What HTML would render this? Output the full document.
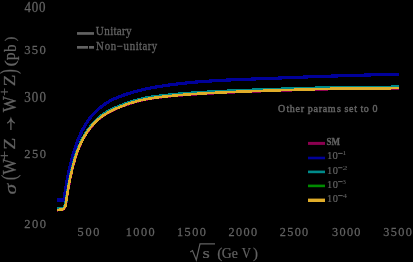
<!DOCTYPE html>
<html><head><meta charset="utf-8"><style>
html,body{margin:0;padding:0;background:#000;width:413px;height:262px;overflow:hidden}
svg{display:block;will-change:transform}
text{font-family:"Liberation Serif",serif;fill:#626262}
</style></head><body>
<svg width="413" height="262" viewBox="0 0 413 262">
<rect width="413" height="262" fill="#000"/>
<g fill="none" stroke-width="3.0" stroke-linejoin="round" shape-rendering="crispEdges">
<path d="M57.30,210.15 L63.40,209.35 L65.60,205.75 L65.84,204.01 L66.09,202.31 L66.33,200.64 L66.58,199.01 L66.82,197.41 L67.06,195.85 L67.31,194.32 L67.55,192.82 L67.80,191.35 L68.04,189.92 L68.28,188.51 L68.53,187.14 L68.77,185.79 L69.02,184.47 L69.26,183.17 L69.51,181.90 L69.75,180.66 L69.99,179.44 L70.24,178.24 L70.48,177.07 L70.73,175.92 L70.97,174.80 L71.21,173.69 L71.46,172.61 L71.70,171.55 L71.95,170.50 L72.19,169.48 L72.43,168.48 L72.68,167.49 L72.92,166.53 L73.17,165.59 L73.41,164.66 L73.65,163.75 L73.90,162.86 L74.14,161.99 L74.39,161.13 L74.63,160.30 L74.87,159.47 L75.12,158.67 L75.36,157.87 L75.61,157.10 L75.85,156.33 L76.09,155.59 L76.34,154.85 L76.58,154.13 L76.83,153.42 L77.07,152.73 L77.32,152.05 L77.56,151.38 L77.80,150.72 L78.05,150.08 L78.29,149.44 L78.54,148.82 L78.78,148.21 L79.02,147.61 L79.27,147.02 L79.51,146.44 L79.76,145.87 L80.00,145.31 L80.50,144.19 L81.38,142.32 L82.26,140.55 L83.14,138.88 L84.02,137.31 L84.90,135.81 L85.78,134.39 L86.66,133.04 L87.54,131.75 L88.42,130.52 L89.30,129.34 L90.18,128.20 L91.06,127.10 L91.94,126.04 L92.82,125.02 L93.70,124.03 L94.58,123.10 L95.46,122.20 L96.34,121.34 L97.22,120.52 L98.09,119.73 L98.97,118.97 L99.85,118.24 L100.73,117.55 L101.61,116.88 L102.49,116.23 L103.37,115.61 L104.25,115.02 L105.13,114.44 L106.01,113.89 L106.89,113.35 L107.77,112.84 L108.65,112.34 L109.53,111.87 L110.41,111.40 L111.29,110.96 L112.17,110.53 L113.05,110.11 L113.93,109.69 L114.81,109.29 L115.69,108.90 L116.57,108.51 L117.45,108.13 L118.33,107.76 L119.21,107.39 L120.09,107.03 L120.97,106.68 L121.85,106.34 L122.73,106.00 L123.61,105.67 L124.49,105.34 L125.37,105.02 L126.25,104.71 L127.13,104.40 L128.01,104.10 L128.89,103.80 L129.77,103.51 L130.65,103.23 L131.53,102.95 L132.41,102.68 L133.28,102.41 L134.16,102.15 L135.04,101.90 L135.92,101.65 L136.80,101.41 L137.68,101.17 L138.56,100.94 L139.44,100.72 L140.32,100.50 L141.20,100.29 L142.08,100.09 L142.96,99.89 L143.84,99.70 L144.72,99.52 L145.60,99.35 L146.48,99.18 L147.36,99.02 L148.24,98.86 L149.12,98.72 L150.00,98.58 L152.00,98.28 L156.19,97.70 L160.37,97.18 L164.56,96.69 L168.75,96.25 L172.93,95.84 L177.12,95.46 L181.31,95.11 L185.49,94.78 L189.68,94.47 L193.86,94.18 L198.05,93.91 L202.24,93.65 L206.42,93.41 L210.61,93.18 L214.80,92.96 L218.98,92.75 L223.17,92.54 L227.36,92.35 L231.54,92.16 L235.73,91.98 L239.92,91.81 L244.10,91.64 L248.29,91.48 L252.47,91.32 L256.66,91.17 L260.85,91.02 L265.03,90.88 L269.22,90.74 L273.41,90.60 L277.59,90.46 L281.78,90.33 L285.97,90.20 L290.15,90.07 L294.34,89.95 L298.53,89.83 L302.71,89.71 L306.90,89.59 L311.08,89.47 L315.27,89.35 L319.46,89.24 L323.64,89.13 L327.83,89.02 L332.02,88.91 L336.20,88.80 L340.39,88.69 L344.58,88.58 L348.76,88.49 L352.95,88.45 L357.14,88.43 L361.32,88.43 L365.51,88.45 L369.69,88.48 L373.88,88.50 L378.07,88.51 L382.25,88.49 L386.44,88.45 L390.63,88.36 L394.81,88.27 L399.00,88.17" stroke="#8b0050"/>
<path d="M57.30,200.00 L64.00,199.97 L64.27,198.06 L64.54,196.21 L64.81,194.39 L65.08,192.62 L65.36,190.90 L65.63,189.21 L65.90,187.56 L66.17,185.94 L66.44,184.37 L66.71,182.82 L66.98,181.32 L67.25,179.84 L67.53,178.40 L67.80,176.98 L68.07,175.60 L68.34,174.25 L68.61,172.92 L68.88,171.63 L69.15,170.35 L69.42,169.11 L69.69,167.89 L69.97,166.69 L70.24,165.52 L70.51,164.37 L70.78,163.25 L71.05,162.14 L71.32,161.06 L71.59,160.00 L71.86,158.96 L72.14,157.94 L72.41,156.94 L72.68,155.95 L72.95,154.99 L73.22,154.04 L73.49,153.11 L73.76,152.20 L74.03,151.31 L74.31,150.43 L74.58,149.57 L74.85,148.72 L75.12,147.89 L75.39,147.08 L75.66,146.27 L75.93,145.49 L76.20,144.71 L76.47,143.95 L76.75,143.20 L77.02,142.46 L77.29,141.74 L77.56,141.02 L77.83,140.32 L78.10,139.63 L78.37,138.96 L78.64,138.29 L78.92,137.64 L79.19,137.00 L79.46,136.37 L79.73,135.75 L80.00,135.14 L80.50,134.04 L81.38,132.18 L82.26,130.41 L83.14,128.72 L84.02,127.11 L84.90,125.57 L85.78,124.10 L86.66,122.71 L87.54,121.38 L88.42,120.12 L89.30,118.92 L90.18,117.78 L91.06,116.69 L91.94,115.64 L92.82,114.64 L93.70,113.67 L94.58,112.74 L95.46,111.85 L96.34,110.99 L97.22,110.16 L98.09,109.37 L98.97,108.60 L99.85,107.86 L100.73,107.14 L101.61,106.45 L102.49,105.78 L103.37,105.14 L104.25,104.51 L105.13,103.91 L106.01,103.33 L106.89,102.77 L107.77,102.23 L108.65,101.71 L109.53,101.21 L110.41,100.73 L111.29,100.27 L112.17,99.83 L113.05,99.39 L113.93,98.98 L114.81,98.58 L115.69,98.19 L116.57,97.81 L117.45,97.44 L118.33,97.09 L119.21,96.74 L120.09,96.41 L120.97,96.08 L121.85,95.76 L122.73,95.45 L123.61,95.14 L124.49,94.84 L125.37,94.55 L126.25,94.26 L127.13,93.98 L128.01,93.70 L128.89,93.42 L129.77,93.14 L130.65,92.87 L131.53,92.60 L132.41,92.34 L133.28,92.09 L134.16,91.84 L135.04,91.60 L135.92,91.36 L136.80,91.12 L137.68,90.90 L138.56,90.67 L139.44,90.45 L140.32,90.24 L141.20,90.03 L142.08,89.82 L142.96,89.62 L143.84,89.42 L144.72,89.23 L145.60,89.04 L146.48,88.85 L147.36,88.67 L148.24,88.49 L149.12,88.31 L150.00,88.14 L152.00,87.76 L156.19,87.01 L160.37,86.32 L164.56,85.68 L168.75,85.08 L172.93,84.53 L177.12,84.01 L181.31,83.53 L185.49,83.08 L189.68,82.65 L193.86,82.26 L198.05,81.89 L202.24,81.56 L206.42,81.26 L210.61,80.98 L214.80,80.72 L218.98,80.48 L223.17,80.26 L227.36,80.06 L231.54,79.87 L235.73,79.69 L239.92,79.52 L244.10,79.35 L248.29,79.20 L252.47,79.04 L256.66,78.89 L260.85,78.74 L265.03,78.58 L269.22,78.42 L273.41,78.26 L277.59,78.10 L281.78,77.92 L285.97,77.75 L290.15,77.58 L294.34,77.42 L298.53,77.26 L302.71,77.10 L306.90,76.95 L311.08,76.80 L315.27,76.65 L319.46,76.51 L323.64,76.37 L327.83,76.23 L332.02,76.09 L336.20,75.96 L340.39,75.83 L344.58,75.70 L348.76,75.57 L352.95,75.44 L357.14,75.32 L361.32,75.19 L365.51,75.07 L369.69,74.95 L373.88,74.83 L378.07,74.72 L382.25,74.60 L386.44,74.49 L390.63,74.37 L394.81,74.26 L399.00,74.15" stroke="#00009a" stroke-width="3.2"/>
<path d="M57.30,208.80 L63.40,208.00 L65.60,204.40 L65.84,202.66 L66.09,200.96 L66.33,199.29 L66.58,197.66 L66.82,196.06 L67.06,194.50 L67.31,192.97 L67.55,191.47 L67.80,190.00 L68.04,188.57 L68.28,187.16 L68.53,185.79 L68.77,184.44 L69.02,183.12 L69.26,181.82 L69.51,180.55 L69.75,179.31 L69.99,178.09 L70.24,176.89 L70.48,175.72 L70.73,174.57 L70.97,173.45 L71.21,172.34 L71.46,171.26 L71.70,170.20 L71.95,169.15 L72.19,168.13 L72.43,167.13 L72.68,166.14 L72.92,165.18 L73.17,164.24 L73.41,163.31 L73.65,162.40 L73.90,161.51 L74.14,160.64 L74.39,159.78 L74.63,158.95 L74.87,158.12 L75.12,157.32 L75.36,156.52 L75.61,155.75 L75.85,154.98 L76.09,154.24 L76.34,153.50 L76.58,152.78 L76.83,152.07 L77.07,151.38 L77.32,150.70 L77.56,150.03 L77.80,149.37 L78.05,148.73 L78.29,148.09 L78.54,147.47 L78.78,146.86 L79.02,146.26 L79.27,145.67 L79.51,145.09 L79.76,144.52 L80.00,143.96 L80.50,142.84 L81.38,140.97 L82.26,139.20 L83.14,137.53 L84.02,135.96 L84.90,134.46 L85.78,133.04 L86.66,131.69 L87.54,130.40 L88.42,129.17 L89.30,127.99 L90.18,126.85 L91.06,125.75 L91.94,124.69 L92.82,123.67 L93.70,122.68 L94.58,121.75 L95.46,120.85 L96.34,119.99 L97.22,119.17 L98.09,118.38 L98.97,117.62 L99.85,116.89 L100.73,116.20 L101.61,115.53 L102.49,114.88 L103.37,114.26 L104.25,113.67 L105.13,113.09 L106.01,112.54 L106.89,112.00 L107.77,111.49 L108.65,110.99 L109.53,110.52 L110.41,110.05 L111.29,109.61 L112.17,109.18 L113.05,108.76 L113.93,108.34 L114.81,107.94 L115.69,107.55 L116.57,107.16 L117.45,106.78 L118.33,106.41 L119.21,106.04 L120.09,105.68 L120.97,105.33 L121.85,104.99 L122.73,104.65 L123.61,104.32 L124.49,103.99 L125.37,103.67 L126.25,103.36 L127.13,103.05 L128.01,102.75 L128.89,102.45 L129.77,102.16 L130.65,101.88 L131.53,101.60 L132.41,101.33 L133.28,101.06 L134.16,100.80 L135.04,100.55 L135.92,100.30 L136.80,100.06 L137.68,99.82 L138.56,99.59 L139.44,99.37 L140.32,99.15 L141.20,98.94 L142.08,98.74 L142.96,98.54 L143.84,98.35 L144.72,98.17 L145.60,98.00 L146.48,97.83 L147.36,97.67 L148.24,97.51 L149.12,97.37 L150.00,97.23 L152.00,96.93 L156.19,96.35 L160.37,95.83 L164.56,95.34 L168.75,94.90 L172.93,94.49 L177.12,94.11 L181.31,93.76 L185.49,93.43 L189.68,93.12 L193.86,92.83 L198.05,92.56 L202.24,92.30 L206.42,92.06 L210.61,91.83 L214.80,91.61 L218.98,91.40 L223.17,91.19 L227.36,91.00 L231.54,90.81 L235.73,90.63 L239.92,90.46 L244.10,90.29 L248.29,90.13 L252.47,89.97 L256.66,89.82 L260.85,89.67 L265.03,89.53 L269.22,89.39 L273.41,89.25 L277.59,89.11 L281.78,88.98 L285.97,88.85 L290.15,88.72 L294.34,88.60 L298.53,88.48 L302.71,88.36 L306.90,88.24 L311.08,88.12 L315.27,88.00 L319.46,87.89 L323.64,87.78 L327.83,87.67 L332.02,87.56 L336.20,87.45 L340.39,87.34 L344.58,87.23 L348.76,87.14 L352.95,87.10 L357.14,87.08 L361.32,87.08 L365.51,87.10 L369.69,87.13 L373.88,87.15 L378.07,87.16 L382.25,87.14 L386.44,87.10 L390.63,87.01 L394.81,86.92 L399.00,86.82" stroke="#008b8b"/>
<path d="M57.30,210.00 L63.40,209.20 L65.60,205.60 L65.84,203.86 L66.09,202.16 L66.33,200.49 L66.58,198.86 L66.82,197.26 L67.06,195.70 L67.31,194.17 L67.55,192.67 L67.80,191.20 L68.04,189.77 L68.28,188.36 L68.53,186.99 L68.77,185.64 L69.02,184.32 L69.26,183.02 L69.51,181.75 L69.75,180.51 L69.99,179.29 L70.24,178.09 L70.48,176.92 L70.73,175.77 L70.97,174.65 L71.21,173.54 L71.46,172.46 L71.70,171.40 L71.95,170.35 L72.19,169.33 L72.43,168.33 L72.68,167.34 L72.92,166.38 L73.17,165.44 L73.41,164.51 L73.65,163.60 L73.90,162.71 L74.14,161.84 L74.39,160.98 L74.63,160.15 L74.87,159.32 L75.12,158.52 L75.36,157.72 L75.61,156.95 L75.85,156.18 L76.09,155.44 L76.34,154.70 L76.58,153.98 L76.83,153.27 L77.07,152.58 L77.32,151.90 L77.56,151.23 L77.80,150.57 L78.05,149.93 L78.29,149.29 L78.54,148.67 L78.78,148.06 L79.02,147.46 L79.27,146.87 L79.51,146.29 L79.76,145.72 L80.00,145.16 L80.50,144.04 L81.38,142.17 L82.26,140.40 L83.14,138.73 L84.02,137.16 L84.90,135.66 L85.78,134.24 L86.66,132.89 L87.54,131.60 L88.42,130.37 L89.30,129.19 L90.18,128.05 L91.06,126.95 L91.94,125.89 L92.82,124.87 L93.70,123.88 L94.58,122.95 L95.46,122.05 L96.34,121.19 L97.22,120.37 L98.09,119.58 L98.97,118.82 L99.85,118.09 L100.73,117.40 L101.61,116.73 L102.49,116.08 L103.37,115.46 L104.25,114.87 L105.13,114.29 L106.01,113.74 L106.89,113.20 L107.77,112.69 L108.65,112.19 L109.53,111.72 L110.41,111.25 L111.29,110.81 L112.17,110.38 L113.05,109.96 L113.93,109.54 L114.81,109.14 L115.69,108.75 L116.57,108.36 L117.45,107.98 L118.33,107.61 L119.21,107.24 L120.09,106.88 L120.97,106.53 L121.85,106.19 L122.73,105.85 L123.61,105.52 L124.49,105.19 L125.37,104.87 L126.25,104.56 L127.13,104.25 L128.01,103.95 L128.89,103.65 L129.77,103.36 L130.65,103.08 L131.53,102.80 L132.41,102.53 L133.28,102.26 L134.16,102.00 L135.04,101.75 L135.92,101.50 L136.80,101.26 L137.68,101.02 L138.56,100.79 L139.44,100.57 L140.32,100.35 L141.20,100.14 L142.08,99.94 L142.96,99.74 L143.84,99.55 L144.72,99.37 L145.60,99.20 L146.48,99.03 L147.36,98.87 L148.24,98.71 L149.12,98.57 L150.00,98.43 L152.00,98.13 L156.19,97.55 L160.37,97.03 L164.56,96.54 L168.75,96.10 L172.93,95.69 L177.12,95.31 L181.31,94.96 L185.49,94.63 L189.68,94.32 L193.86,94.03 L198.05,93.76 L202.24,93.50 L206.42,93.26 L210.61,93.03 L214.80,92.81 L218.98,92.60 L223.17,92.39 L227.36,92.20 L231.54,92.01 L235.73,91.83 L239.92,91.66 L244.10,91.49 L248.29,91.33 L252.47,91.17 L256.66,91.02 L260.85,90.87 L265.03,90.73 L269.22,90.59 L273.41,90.45 L277.59,90.31 L281.78,90.18 L285.97,90.05 L290.15,89.92 L294.34,89.80 L298.53,89.68 L302.71,89.56 L306.90,89.44 L311.08,89.32 L315.27,89.20 L319.46,89.09 L323.64,88.98 L327.83,88.87 L332.02,88.76 L336.20,88.65 L340.39,88.54 L344.58,88.43 L348.76,88.34 L352.95,88.30 L357.14,88.28 L361.32,88.28 L365.51,88.30 L369.69,88.33 L373.88,88.35 L378.07,88.36 L382.25,88.34 L386.44,88.30 L390.63,88.21 L394.81,88.12 L399.00,88.02" stroke="#008b00" stroke-width="2.6"/>
<path d="M57.30,210.00 L63.40,209.20 L65.60,205.60 L65.84,203.86 L66.09,202.16 L66.33,200.49 L66.58,198.86 L66.82,197.26 L67.06,195.70 L67.31,194.17 L67.55,192.67 L67.80,191.20 L68.04,189.77 L68.28,188.36 L68.53,186.99 L68.77,185.64 L69.02,184.32 L69.26,183.02 L69.51,181.75 L69.75,180.51 L69.99,179.29 L70.24,178.09 L70.48,176.92 L70.73,175.77 L70.97,174.65 L71.21,173.54 L71.46,172.46 L71.70,171.40 L71.95,170.35 L72.19,169.33 L72.43,168.33 L72.68,167.34 L72.92,166.38 L73.17,165.44 L73.41,164.51 L73.65,163.60 L73.90,162.71 L74.14,161.84 L74.39,160.98 L74.63,160.15 L74.87,159.32 L75.12,158.52 L75.36,157.72 L75.61,156.95 L75.85,156.18 L76.09,155.44 L76.34,154.70 L76.58,153.98 L76.83,153.27 L77.07,152.58 L77.32,151.90 L77.56,151.23 L77.80,150.57 L78.05,149.93 L78.29,149.29 L78.54,148.67 L78.78,148.06 L79.02,147.46 L79.27,146.87 L79.51,146.29 L79.76,145.72 L80.00,145.16 L80.50,144.04 L81.38,142.17 L82.26,140.40 L83.14,138.73 L84.02,137.16 L84.90,135.66 L85.78,134.24 L86.66,132.89 L87.54,131.60 L88.42,130.37 L89.30,129.19 L90.18,128.05 L91.06,126.95 L91.94,125.89 L92.82,124.87 L93.70,123.88 L94.58,122.95 L95.46,122.05 L96.34,121.19 L97.22,120.37 L98.09,119.58 L98.97,118.82 L99.85,118.09 L100.73,117.40 L101.61,116.73 L102.49,116.08 L103.37,115.46 L104.25,114.87 L105.13,114.29 L106.01,113.74 L106.89,113.20 L107.77,112.69 L108.65,112.19 L109.53,111.72 L110.41,111.25 L111.29,110.81 L112.17,110.38 L113.05,109.96 L113.93,109.54 L114.81,109.14 L115.69,108.75 L116.57,108.36 L117.45,107.98 L118.33,107.61 L119.21,107.24 L120.09,106.88 L120.97,106.53 L121.85,106.19 L122.73,105.85 L123.61,105.52 L124.49,105.19 L125.37,104.87 L126.25,104.56 L127.13,104.25 L128.01,103.95 L128.89,103.65 L129.77,103.36 L130.65,103.08 L131.53,102.80 L132.41,102.53 L133.28,102.26 L134.16,102.00 L135.04,101.75 L135.92,101.50 L136.80,101.26 L137.68,101.02 L138.56,100.79 L139.44,100.57 L140.32,100.35 L141.20,100.14 L142.08,99.94 L142.96,99.74 L143.84,99.55 L144.72,99.37 L145.60,99.20 L146.48,99.03 L147.36,98.87 L148.24,98.71 L149.12,98.57 L150.00,98.43 L152.00,98.13 L156.19,97.55 L160.37,97.03 L164.56,96.54 L168.75,96.10 L172.93,95.69 L177.12,95.31 L181.31,94.96 L185.49,94.63 L189.68,94.32 L193.86,94.03 L198.05,93.76 L202.24,93.50 L206.42,93.26 L210.61,93.03 L214.80,92.81 L218.98,92.60 L223.17,92.39 L227.36,92.20 L231.54,92.01 L235.73,91.83 L239.92,91.66 L244.10,91.49 L248.29,91.33 L252.47,91.17 L256.66,91.02 L260.85,90.87 L265.03,90.73 L269.22,90.59 L273.41,90.45 L277.59,90.31 L281.78,90.18 L285.97,90.05 L290.15,89.92 L294.34,89.80 L298.53,89.68 L302.71,89.56 L306.90,89.44 L311.08,89.32 L315.27,89.20 L319.46,89.09 L323.64,88.98 L327.83,88.87 L332.02,88.76 L336.20,88.65 L340.39,88.54 L344.58,88.43 L348.76,88.34 L352.95,88.30 L357.14,88.28 L361.32,88.28 L365.51,88.30 L369.69,88.33 L373.88,88.35 L378.07,88.36 L382.25,88.34 L386.44,88.30 L390.63,88.21 L394.81,88.12 L399.00,88.02" stroke="#e0ad2a" stroke-width="2.6"/>
</g>
<g stroke="#626262" stroke-width="0.2">
<text x="25.83 33.47 41.10" y="11.86" font-size="13.63" transform="scale(0.95,1)" stroke-width="0.25">400</text>
<text x="25.44 33.55 41.66" y="53.67" font-size="13.33" transform="scale(0.95,1)" stroke-width="0.25">350</text>
<text x="25.42 33.47 41.52" y="101.66" font-size="13.63" transform="scale(0.95,1)" stroke-width="0.25">300</text>
<text x="25.51 33.62 41.72" y="158.47" font-size="13.19" transform="scale(0.95,1)" stroke-width="0.25">250</text>
<text x="25.51 33.62 41.72" y="227.97" font-size="13.19" transform="scale(0.95,1)" stroke-width="0.25">200</text>
<text x="81.54 89.91 98.28" y="235.87" font-size="12.89" transform="scale(0.95,1)" stroke-width="0.25">500</text>
<text x="132.31 140.34 148.36 156.39" y="235.87" font-size="12.89" transform="scale(0.95,1)" stroke-width="0.25">1000</text>
<text x="186.31 194.34 202.36 210.39" y="235.87" font-size="12.89" transform="scale(0.95,1)" stroke-width="0.25">1500</text>
<text x="240.47 248.37 256.28 264.18" y="235.87" font-size="12.89" transform="scale(0.95,1)" stroke-width="0.25">2000</text>
<text x="294.58 302.37 310.17 317.97" y="235.87" font-size="12.89" transform="scale(0.95,1)" stroke-width="0.25">2500</text>
<text x="349.57 357.38 365.20 373.02" y="235.87" font-size="12.89" transform="scale(0.95,1)" stroke-width="0.25">3000</text>
<text x="403.46 411.31 419.17 427.02" y="235.87" font-size="12.89" transform="scale(0.95,1)" stroke-width="0.25">3500</text>
<text transform="translate(202.45,258.35) scale(1.2844,1)" font-size="14.58">s</text>
<text transform="translate(217.21,258.22) scale(1.0013,1)" font-size="15.27">(</text>
<text transform="translate(221.85,257.95) scale(0.9220,1)" font-size="14.93">Ge</text>
<text transform="translate(241.67,257.88) scale(0.8519,1)" font-size="14.93">V</text>
<text transform="translate(253.05,258.26) scale(0.9712,1)" font-size="15.44">)</text>
<text x="100.82 109.79 116.00 119.45 122.90 128.41 132.55" y="34.59" font-size="11.66" transform="scale(0.95,1)" stroke-width="0.3">Unitary</text>
<text x="104.32 113.82 120.39 126.96 134.38 140.95 147.52 151.18 154.83 160.66 165.04" y="49.67" font-size="11.77" transform="scale(0.92,1)" stroke-width="0.3">Non−unitary</text>
<text x="302.17 311.38 314.93 321.31 326.97 331.21 334.40 340.78 346.44 350.69 356.35 366.27 371.23 374.42 379.38 385.05 388.59 391.78 395.32 401.70 404.89" y="112.26" font-size="10.88" transform="scale(0.92,1)" stroke-width="0.5">Other params set to 0</text>
<text transform="translate(326.40,144.70) scale(0.9046,1)" font-size="10.00" font-weight="bold" stroke-width="0.3">SM</text>
<text x="326.94 332.49" y="158.89" font-size="10.67">10</text>
<text transform="translate(342.18,154.80) scale(1.1733,1)" font-size="6.82" stroke-width="0">1</text>
<text x="326.97 332.63" y="173.80" font-size="10.37">10</text>
<text transform="translate(342.45,169.60) scale(1.5000,1)" font-size="6.67" stroke-width="0">2</text>
<text x="326.97 332.63" y="187.80" font-size="10.37">10</text>
<text transform="translate(342.56,183.53) scale(1.0399,1)" font-size="6.57" stroke-width="0">3</text>
<text x="326.97 332.63" y="201.80" font-size="10.37">10</text>
<text transform="translate(342.73,197.60) scale(1.2903,1)" font-size="6.67" stroke-width="0">4</text>
</g>
<g transform="rotate(-90)" stroke="#626262" stroke-width="0.25">
<text transform="translate(-194.55,15.83) scale(1.2471,1)" font-size="17.33" font-style="italic">σ</text>
<text transform="translate(-180.16,16.40) scale(0.7711,1)" font-size="21.87">(</text>
<text transform="translate(-174.80,15.73) scale(0.9348,1)" font-size="18.21">W</text>
<text transform="translate(-160.33,9.34) scale(1.0962,1)" font-size="15.11">+</text>
<text transform="translate(-149.78,15.30) scale(1.1166,1)" font-size="17.56">Z</text>
<text transform="translate(-112.30,15.73) scale(0.9348,1)" font-size="18.21">W</text>
<text transform="translate(-95.79,8.91) scale(0.9952,1)" font-size="13.83">+</text>
<text transform="translate(-86.15,15.10) scale(1.1320,1)" font-size="16.79">Z</text>
<text transform="translate(-74.04,15.96) scale(0.6610,1)" font-size="22.11">)</text>
<text transform="translate(-66.45,14.64) scale(1.2413,1)" font-size="15.16">(</text>
<text transform="translate(-60.33,15.08) scale(0.9744,1)" font-size="15.91">p</text>
<text transform="translate(-51.90,15.63) scale(0.9038,1)" font-size="16.60">b</text>
<text transform="translate(-41.30,14.68) scale(0.8779,1)" font-size="15.33">)</text>
</g>
<!-- arrow in y label -->
<path d="M10.9,130 L10.9,119.5 M7.2,123.2 Q10,121.5 10.9,118.6 Q11.8,121.5 14.8,123.2" fill="none" stroke="#626262" stroke-width="1.3"/>
<!-- minus in Non-unitary -->
<!-- superscript minus signs -->
<rect x="338.1" y="152.9" width="4.6" height="1" fill="#626262"/>
<rect x="338.1" y="167.2" width="4.3" height="1" fill="#626262"/>
<rect x="338.1" y="181.1" width="4.6" height="1" fill="#626262"/>
<rect x="338.1" y="195.1" width="4.6" height="1" fill="#626262"/>
<!-- radical -->
<path d="M190.2,252 L192.5,250.6 L196.3,260 L200,243.9 L215,243.9" fill="none" stroke="#626262" stroke-width="1.2" stroke-linejoin="miter"/>
<!-- top-left legend -->
<rect x="77" y="32.1" width="17" height="2.7" fill="#626262"/>
<rect x="77" y="46.0" width="11" height="2.7" fill="#626262"/>
<rect x="89" y="46.0" width="5" height="2.7" fill="#626262"/>
<!-- right legend -->
<rect x="308" y="141.9" width="17" height="3" fill="#8b0050"/>
<rect x="308" y="156.7" width="17" height="2.6" fill="#00009a"/>
<rect x="308" y="170.6" width="17" height="2.6" fill="#008b8b"/>
<rect x="308" y="184.6" width="17" height="2.6" fill="#008b00"/>
<rect x="308" y="198.6" width="17" height="3.4" fill="#e0ad2a"/>
</svg>
</body></html>
